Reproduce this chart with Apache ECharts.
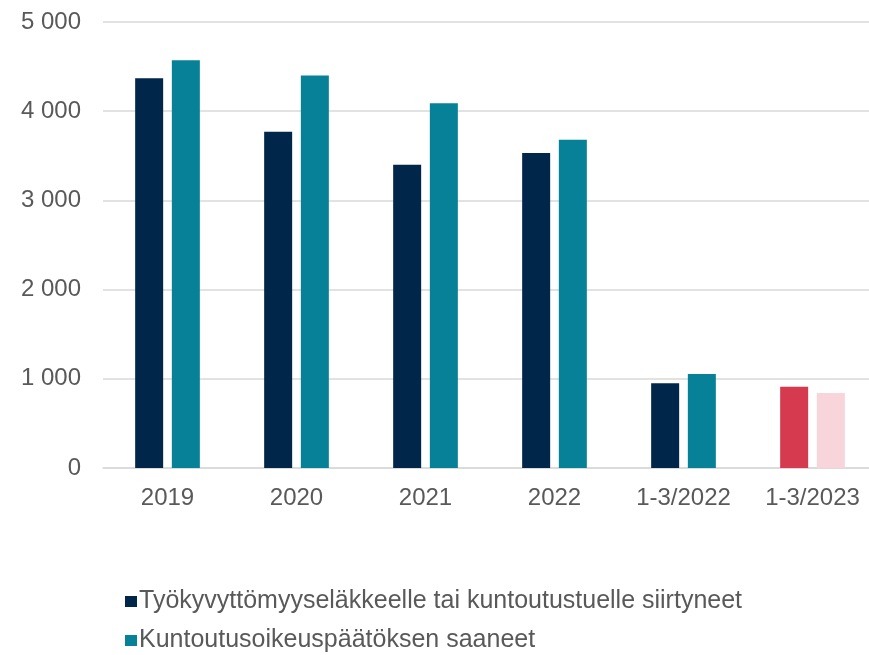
<!DOCTYPE html>
<html><head><meta charset="utf-8">
<script src="https://cdn.jsdelivr.net/npm/echarts@6/dist/echarts.min.js"></script>
<style>html,body{margin:0;padding:0;background:#fff;overflow:hidden}#c{width:877px;height:655px}</style>
</head><body><div id="c"></div>
<script>
const categories = ['2019','2020','2021','2022','1-3/2022','1-3/2023'];
const seriesNames = ['Työkyvyttömyyseläkkeelle tai kuntoutustuelle siirtyneet','Kuntoutusoikeuspäätöksen saaneet'];
const transitioned = [4370, 3770, 3400, 3530, 950, 910];
const rehabDecisions = [4570, 4400, 4090, 3680, 1055, 840];
const yTicks = [0, 1000, 2000, 3000, 4000, 5000];

const darkBlue = '#00264a', teal = '#078197', red = '#d63a4f', pink = '#f7d5db';
const lastIdx = categories.length - 1;
function mk(vals, special){
  return vals.map((v,i)=> i===lastIdx ? {value:v, itemStyle:{color:special}} : v);
}
const chart = echarts.init(document.getElementById('c'));
chart.setOption({
  animation:false,
  textStyle:{fontFamily:'Liberation Sans, Arial, sans-serif'},
  grid:{left:103, top:22, right:0, height:446},
  legend:{
    orient:'vertical', left:125, top:589, height:100, padding:0, itemGap:14, itemWidth:12, itemHeight:11,
    icon:'rect',
    textStyle:{color:'#595959', fontSize:25, padding:[0,0,0,-3]},
    data:seriesNames
  },
  xAxis:{
    type:'category', data:categories,
    axisLine:{lineStyle:{color:'#d9d9d9', width:1.5}}, axisTick:{show:false},
    axisLabel:{color:'#595959', fontSize:24, margin:18}
  },
  yAxis:{
    type:'value', min:yTicks[0], max:yTicks[yTicks.length-1], interval:1000,
    axisLine:{show:false}, axisTick:{show:false},
    splitLine:{lineStyle:{color:'#d9d9d9', width:1.5}},
    axisLabel:{color:'#595959', fontSize:24, margin:22,
      formatter:v=>String(v).replace(/\B(?=(\d{3})+(?!\d))/g,' ')}
  },
  series:[
    {name:seriesNames[0], type:'bar', data:mk(transitioned, red), itemStyle:{color:darkBlue}, barWidth:28, barGap:'31%'},
    {name:seriesNames[1], type:'bar', data:mk(rehabDecisions, pink), itemStyle:{color:teal}, barWidth:28, barGap:'31%'}
  ]
});
</script></body></html>
